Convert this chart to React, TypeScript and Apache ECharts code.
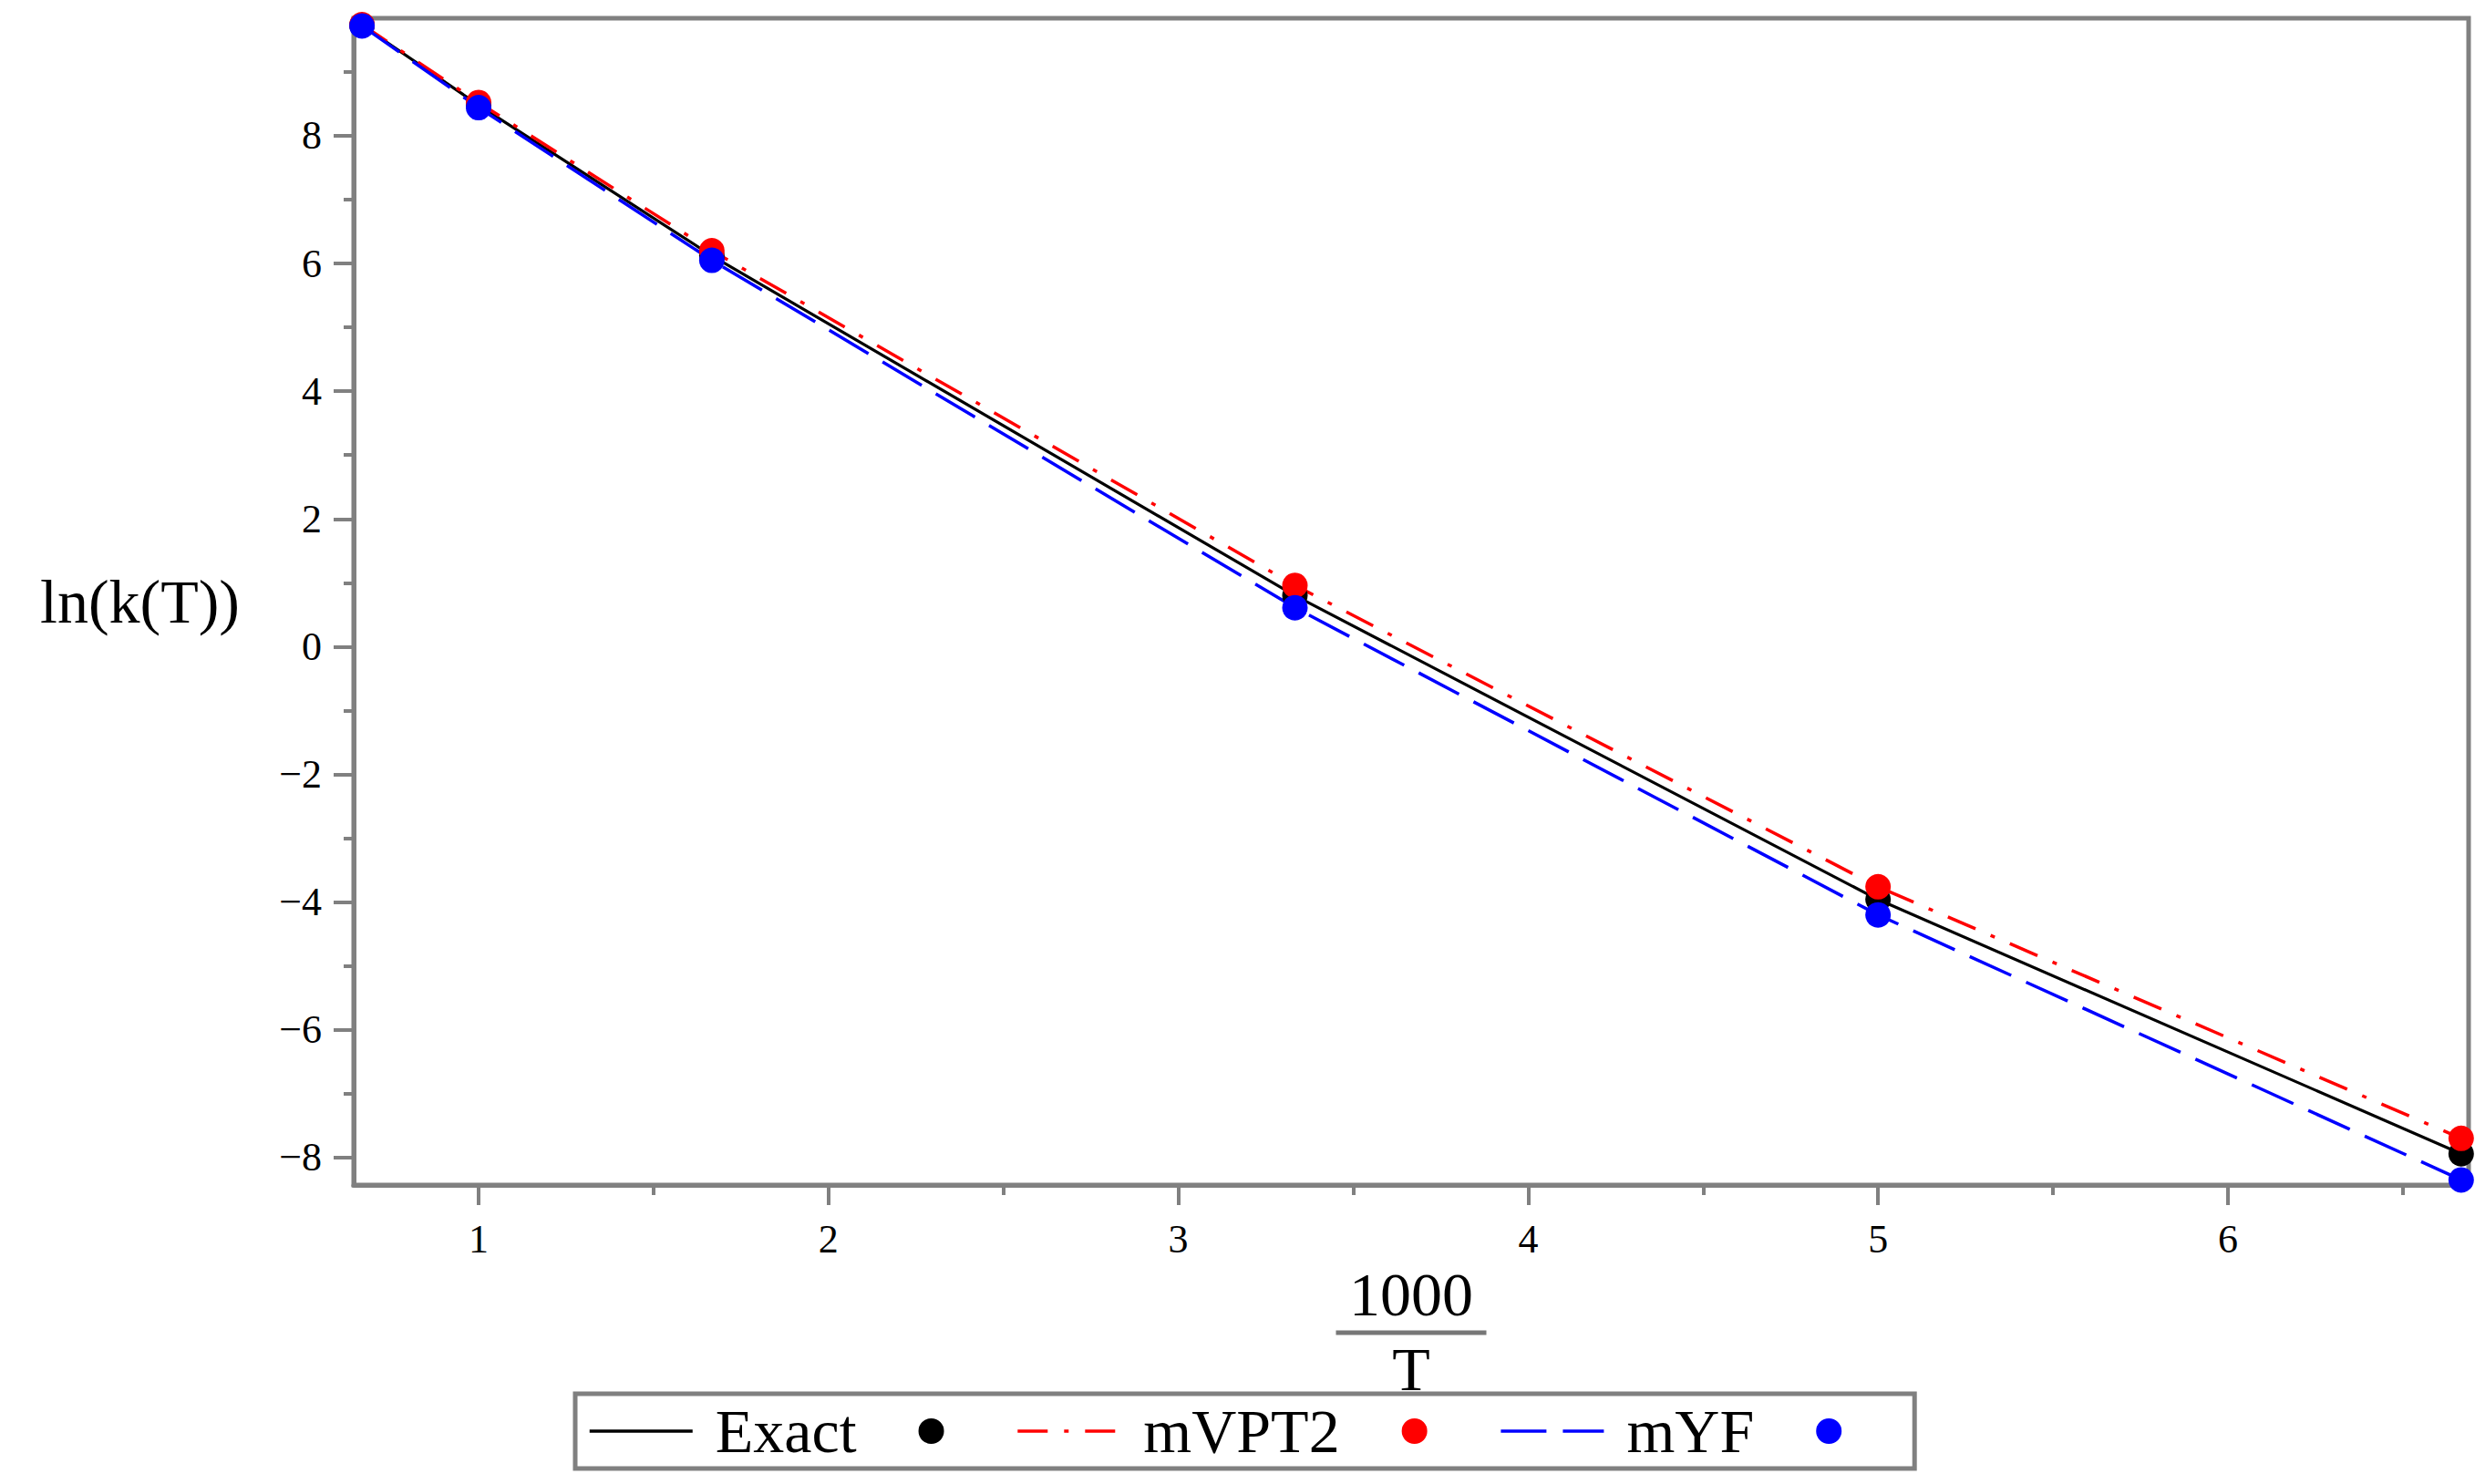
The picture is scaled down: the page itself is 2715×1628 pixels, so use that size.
import React, { useEffect, useRef } from "react";
import * as echarts from "echarts";

// x = 1000/T
const X = [0.6667, 1.0, 1.6667, 3.3333, 5.0, 6.6667];
const EXACT = [9.73, 8.48, 6.12, 0.8, -3.96, -7.94];
const MVPT2 = [9.74, 8.52, 6.2, 0.96, -3.76, -7.7];
const MYF = [9.72, 8.44, 6.05, 0.61, -4.2, -8.35];

const NAMES = ["Exact", "mVPT2", "mYF"];
const COLORS = ["#000000", "#ff0000", "#0000ff"];

const X_MAJOR = [1, 2, 3, 4, 5, 6];
const X_MINOR = [1.5, 2.5, 3.5, 4.5, 5.5, 6.5];
const Y_MAJOR = [-8, -6, -4, -2, 0, 2, 4, 6, 8];
const Y_MINOR = [-7, -5, -3, -1, 1, 3, 5, 7, 9];

const X_MIN = 0.643;
const X_MAX = 6.688;
const Y_MIN = -8.43;
const Y_MAX = 9.84;

const FONT = "'Liberation Serif', 'Times New Roman', serif";
const GRAY = "#808080";

export default function App() {
  const ref = useRef<HTMLDivElement>(null);

  useEffect(() => {
    if (!ref.current) return;
    const chart = echarts.init(ref.current, undefined, { renderer: "svg" });

    const series = [EXACT, MVPT2, MYF];
    const lineStyles: any[] = [
      { color: COLORS[0], width: 3.2, type: "solid" },
      { color: COLORS[1], width: 3.5, type: [33, 18, 5, 18] },
      { color: COLORS[2], width: 3.5, type: [50, 18] },
    ];

    const lineSeries = series.map((vals, i) => ({
      name: NAMES[i],
      type: "line",
      data: X.map((x, j) => [x, vals[j]]),
      symbol: "none",
      showSymbol: false,
      lineStyle: lineStyles[i],
      itemStyle: { color: COLORS[i] },
      z: 2 + i,
      silent: true,
    }));

    const scatterSeries = series.map((vals, i) => ({
      name: NAMES[i],
      type: "scatter",
      data: X.map((x, j) => [x, vals[j]]),
      symbol: "circle",
      symbolSize: 28,
      itemStyle: { color: COLORS[i], opacity: 1 },
      clip: false,
      z: 10 + i,
      silent: true,
    }));

    const fmtY = (v: number) => (v < 0 ? "\u2212" + Math.abs(v) : String(v));

    const rich: any = {
      t: { fontFamily: FONT, fontSize: 68, lineHeight: 80, color: "#000", padding: [0, 68, 0, 20] },
    };
    COLORS.forEach((c, i) => {
      rich["d" + i] = { width: 28, height: 28, borderRadius: 14, backgroundColor: c, fontSize: 4, lineHeight: 28 };
    });

    chart.setOption({
      animation: false,
      backgroundColor: "#ffffff",
      grid: {
        left: 388,
        right: 7,
        top: 20,
        bottom: 328,
        show: true,
        borderColor: GRAY,
        borderWidth: 5,
        backgroundColor: "transparent",
      },
      legend: {
        data: NAMES,
        left: 631,
        top: 1529,
        orient: "horizontal",
        itemWidth: 113,
        itemHeight: 30,
        itemGap: 79,
        padding: [7, 80, 7, 14],
        borderColor: GRAY,
        borderWidth: 5,
        backgroundColor: "#ffffff",
        selectedMode: false,
        itemStyle: { color: "rgba(0,0,0,0)", borderColor: "rgba(0,0,0,0)", borderWidth: 0, opacity: 0 },
        lineStyle: { width: 3.5 },
        formatter: (name: string) => `{t|${name}}{d${NAMES.indexOf(name)}| }`,
        textStyle: { fontFamily: FONT, fontSize: 68, color: "#000", rich },
      },
      xAxis: [
        {
          type: "value",
          min: X_MIN,
          max: X_MAX,
          position: "bottom",
          axisLine: { show: true, onZero: false, lineStyle: { color: GRAY, width: 5 } },
          axisTick: { show: true, customValues: X_MAJOR, length: 22, lineStyle: { color: GRAY, width: 4 } },
          axisLabel: {
            customValues: X_MAJOR,
            fontFamily: FONT,
            fontSize: 44,
            color: "#000",
            margin: 37,
          },
          splitLine: { show: false },
          name: "{num|1000}\n{bar| }\n{den|T}",
          nameLocation: "middle",
          nameGap: 58,
          nameTextStyle: {
            fontFamily: FONT,
            color: "#000",
            align: "center",
            rich: {
              num: { fontFamily: FONT, fontSize: 68, lineHeight: 78, color: "#000", align: "center" },
              bar: { width: 165, height: 5, lineHeight: 6, fontSize: 4, backgroundColor: "#777", align: "center" },
              den: { fontFamily: FONT, fontSize: 68, lineHeight: 74, color: "#000", align: "center" },
            },
          },
        },
        {
          type: "value",
          min: X_MIN,
          max: X_MAX,
          position: "bottom",
          axisLine: { show: false, onZero: false },
          axisTick: { show: true, customValues: X_MINOR, length: 11, lineStyle: { color: GRAY, width: 4 } },
          axisLabel: { show: false },
          splitLine: { show: false },
        },
      ],
      yAxis: [
        {
          type: "value",
          min: Y_MIN,
          max: Y_MAX,
          position: "left",
          axisLine: { show: true, onZero: false, lineStyle: { color: GRAY, width: 5 } },
          axisTick: { show: true, customValues: Y_MAJOR, length: 22, lineStyle: { color: GRAY, width: 4 } },
          axisLabel: {
            customValues: Y_MAJOR,
            formatter: fmtY,
            fontFamily: FONT,
            fontSize: 44,
            color: "#000",
            margin: 35,
          },
          splitLine: { show: false },
          name: "ln(k(T))",
          nameLocation: "middle",
          nameRotate: 0,
          nameGap: 125,
          nameTextStyle: { fontFamily: FONT, fontSize: 68, color: "#000" },
        },
        {
          type: "value",
          min: Y_MIN,
          max: Y_MAX,
          position: "left",
          axisLine: { show: false, onZero: false },
          axisTick: { show: true, customValues: Y_MINOR, length: 11, lineStyle: { color: GRAY, width: 4 } },
          axisLabel: { show: false },
          splitLine: { show: false },
        },
      ],
      series: [...lineSeries, ...scatterSeries],
    });

    return () => chart.dispose();
  }, []);

  return (
    <div
      ref={ref}
      style={{ position: "absolute", left: 0, top: 0, width: 2715, height: 1628, background: "#fff" }}
    />
  );
}
